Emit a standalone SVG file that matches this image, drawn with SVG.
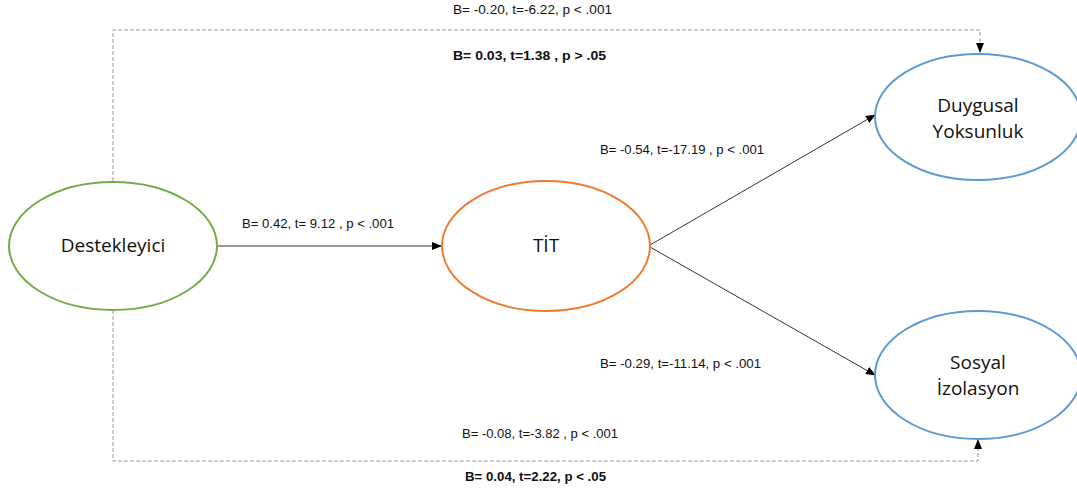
<svg xmlns="http://www.w3.org/2000/svg" width="1077" height="491" viewBox="0 0 1077 491">
<style>
.lbl{font-family:"Liberation Sans",Arial,sans-serif;font-size:12px;fill:#111}
.b{font-weight:bold}
.node{font-family:"Open Sans","Liberation Sans",sans-serif;font-size:19px;fill:#111;text-anchor:middle}
.e{fill:#fff;stroke-width:2}
.solid{stroke:#333;stroke-width:1;fill:none}
.dash{stroke:#999;stroke-width:1;stroke-dasharray:4 2;fill:none}
</style>
<defs>
<marker id="ah" markerWidth="10" markerHeight="8" refX="9" refY="4" orient="auto" markerUnits="userSpaceOnUse">
<path d="M0,0 L10,4 L0,8 Z" fill="#000"/>
</marker>
</defs>
<g id="connectors">
<line class="solid" x1="217" y1="246" x2="441" y2="246" marker-end="url(#ah)"/>
<line class="solid" x1="650" y1="245" x2="875" y2="115" marker-end="url(#ah)"/>
<line class="solid" x1="650" y1="247" x2="875" y2="375" marker-end="url(#ah)"/>
<polyline class="dash" points="113,181 113,30 980,30 980,52" marker-end="url(#ah)"/>
<polyline class="dash" points="113,310 113,461 978,461 978,440" marker-end="url(#ah)"/>
</g>
<g id="labels">
<text class="lbl" x="453" y="14" textLength="159" lengthAdjust="spacingAndGlyphs">B= -0.20, t=-6.22, p &lt; .001</text>
<text class="lbl b" x="453" y="60" textLength="153" lengthAdjust="spacingAndGlyphs">B= 0.03, t=1.38 , p &gt; .05</text>
<text class="lbl" x="242" y="228" textLength="152" lengthAdjust="spacingAndGlyphs">B= 0.42, t= 9.12 , p &lt; .001</text>
<text class="lbl" x="600" y="154" textLength="164" lengthAdjust="spacingAndGlyphs">B= -0.54, t=-17.19 , p &lt; .001</text>
<text class="lbl" x="600" y="368" textLength="161" lengthAdjust="spacingAndGlyphs">B= -0.29, t=-11.14, p &lt; .001</text>
<text class="lbl" x="462" y="438" textLength="156" lengthAdjust="spacingAndGlyphs">B= -0.08, t=-3.82 , p &lt; .001</text>
<text class="lbl b" x="465" y="481" textLength="141" lengthAdjust="spacingAndGlyphs">B= 0.04, t=2.22, p &lt; .05</text>
</g>
<g id="destekleyici">
<ellipse class="e" cx="113" cy="246" rx="104" ry="64" stroke="#70AD47"/>
<text class="node" x="113" y="252">Destekleyici</text>
</g>
<g id="tit">
<ellipse class="e" cx="546" cy="246" rx="104" ry="65" stroke="#ED7D31"/>
<text class="node" x="546" y="252">TİT</text>
</g>
<g id="duygusal">
<ellipse class="e" cx="978" cy="117" rx="103" ry="63" stroke="#5B9BD5"/>
<text class="node" x="978" y="112">Duygusal</text>
<text class="node" x="978" y="138">Yoksunluk</text>
</g>
<g id="sosyal">
<ellipse class="e" cx="978" cy="375" rx="103" ry="64" stroke="#5B9BD5"/>
<text class="node" x="978" y="369">Sosyal</text>
<text class="node" x="978" y="395">İzolasyon</text>
</g>
</svg>
